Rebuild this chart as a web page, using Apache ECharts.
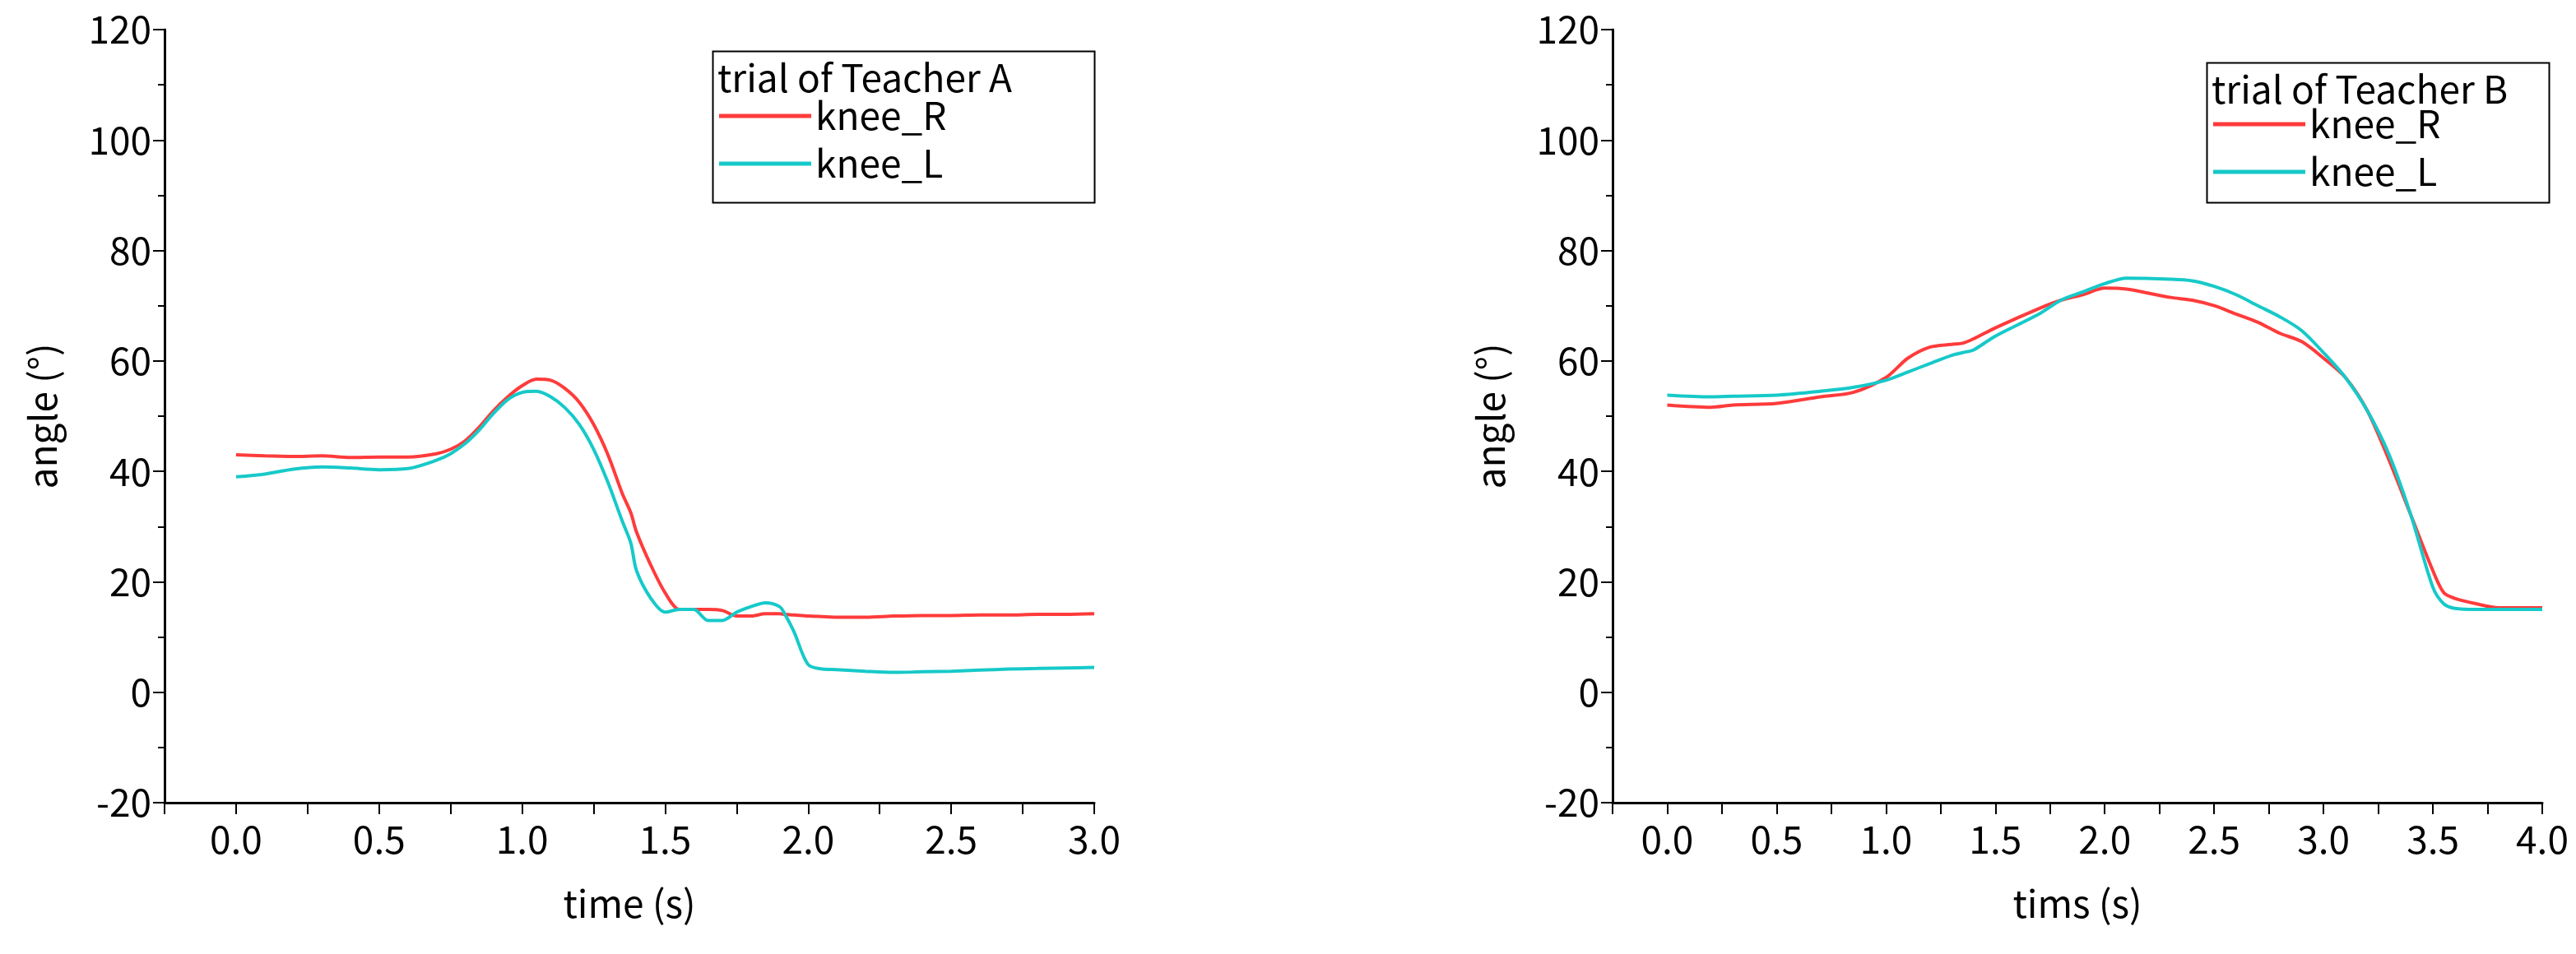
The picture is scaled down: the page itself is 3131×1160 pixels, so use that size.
<!DOCTYPE html>
<html>
<head>
  <meta charset="utf-8">
  <title>knee angle</title>
  <script src="https://cdn.jsdelivr.net/npm/echarts@6/dist/echarts.min.js"></script>
</head>
<body style="margin:0;background:#fff">
  <div id="main" style="width:3131px;height:1160px"></div>
  <script type="text/javascript">
    // Teacher A
    var timeA = [0,0.1,0.2,0.3,0.4,0.5,0.6,0.7,0.75,0.8,0.85,0.9,0.95,1.0,1.05,1.1,1.15,1.2,1.25,1.3,1.35,1.38,1.4,1.45,1.5,1.55,1.6,1.65,1.7,1.75,1.8,1.85,1.9,1.92,1.95,2.0,2.05,2.1,2.2,2.3,2.4,2.5,2.6,2.7,2.8,2.9,3.0];
    var kneeRA = [43,42.8,42.7,42.8,42.5,42.6,42.6,43.2,44,45.5,48,51,53.5,55.5,56.7,56.5,55,52.5,48.5,43,36,32.5,29,23,18,15,15,15,14.8,13.8,13.8,14.2,14.2,14.1,14,13.8,13.7,13.6,13.6,13.8,13.9,13.9,14,14,14.1,14.1,14.2];
    var kneeLA = [39,39.5,40.4,40.8,40.6,40.3,40.5,42,43.2,45,47.5,50.5,53,54.3,54.5,53.5,51.5,48.5,44,38,31,27,22,17,14.5,15,15,13,13,14.5,15.5,16.2,15.5,14,11,5,4.2,4.1,3.8,3.6,3.7,3.8,4,4.2,4.3,4.4,4.5];
    // Teacher B
    var timeB = [0,0.2,0.3,0.5,0.7,0.85,1.0,1.1,1.2,1.3,1.35,1.4,1.5,1.7,1.8,1.9,2.0,2.1,2.3,2.4,2.5,2.6,2.7,2.8,2.9,3.0,3.1,3.2,3.3,3.4,3.5,3.55,3.6,3.7,3.8,4.0];
    var kneeRB = [52,51.6,52,52.3,53.5,54.3,57,60.5,62.5,63,63.2,64,66,69.5,71,72,73.2,73,71.5,71,70,68.5,67,65,63.5,60.5,57,51,42,32,22,18,17,16,15.3,15.3];
    var kneeLB = [53.8,53.5,53.6,53.8,54.5,55.2,56.5,58,59.5,61,61.5,62,64.5,68.5,71,72.5,74,75,74.8,74.5,73.5,72,70,68,65.5,61.5,57,51,43,32,19,16,15.2,15,15,15];
    var yTicks = {min: -20, max: 120, interval: 20};

    var RED = '#ff3b3b', CYAN = '#17c9c9';
    var FONT = 'Noto Sans CJK JP';
    function pairs(xs, ys) { return xs.map(function (x, i) { return [x, ys[i]]; }); }
    function xAxisFor(idx, max, name) {
      return {
        gridIndex: idx, type: 'value', min: -0.25, max: max, interval: 0.25,
        name: name, nameLocation: 'middle', nameGap: 100,
        nameTextStyle: {fontSize: 46, color: '#000', fontFamily: FONT},
        axisLine: {onZero: false, lineStyle: {color: '#000', width: 3}},
        axisTick: {inside: false, length: 14, lineStyle: {color: '#000', width: 2}},
        splitLine: {show: false},
        axisLabel: {fontSize: 46, color: '#000', fontFamily: FONT, margin: 22,
          formatter: function (v) {
            if (v < 0 || Math.abs(v * 2 - Math.round(v * 2)) > 1e-6) return '';
            return v.toFixed(1);
          }}
      };
    }
    function yAxisFor(idx) {
      return {
        gridIndex: idx, type: 'value', min: yTicks.min, max: yTicks.max, interval: yTicks.interval,
        name: 'angle (°)', nameLocation: 'middle', nameGap: 125,
        nameTextStyle: {fontSize: 46, color: '#000', fontFamily: FONT},
        axisLine: {show: true, onZero: false, lineStyle: {color: '#000', width: 3}},
        axisTick: {show: true, length: 14, lineStyle: {color: '#000', width: 2}},
        minorTick: {show: true, splitNumber: 2, length: 8, lineStyle: {color: '#000', width: 2}},
        splitLine: {show: false},
        axisLabel: {fontSize: 46, color: '#000', fontFamily: FONT, margin: 16}
      };
    }
    function line(name, idx, data, color) {
      return {name: name, type: 'line', xAxisIndex: idx, yAxisIndex: idx, data: data,
        showSymbol: false, smooth: 0.3, lineStyle: {color: color, width: 4}, itemStyle: {color: color}};
    }
    function legendBox(x, y, w, h, title) {
      return [
        {type: 'rect', left: x, top: y, shape: {width: w, height: h},
          style: {fill: 'none', stroke: '#000', lineWidth: 2}},
        {type: 'text', left: x + 8, top: y + 12,
          style: {text: title, fontSize: 46, fontFamily: FONT, fill: '#000'}}
      ];
    }
    function legendFor(left, top) {
      return {
        data: ['knee_R', 'knee_L'],
        orient: 'vertical', left: left, top: top, itemWidth: 112, itemHeight: 5, itemGap: 12,
        icon: 'rect', textStyle: {fontSize: 46, fontFamily: FONT, color: '#000'},
        selectedMode: false, padding: 0
      };
    }

    var myChart = echarts.init(document.getElementById('main'));
    var option = {
      animation: false,
      grid: [
        {left: 200, top: 36, width: 1130, height: 940},
        {left: 1960, top: 36, width: 1130, height: 940}
      ],
      xAxis: [xAxisFor(0, 3.0, 'time (s)'), xAxisFor(1, 4.0, 'tims (s)')],
      yAxis: [yAxisFor(0), yAxisFor(1)],
      legend: [legendFor(874, 118), legendFor(2690, 128)],
      graphic: legendBox(864, 60, 464, 184, 'trial of Teacher A')
        .concat(legendBox(2680, 74, 416, 170, 'trial of Teacher B')),
      series: [
        line('knee_R', 0, pairs(timeA, kneeRA), RED),
        line('knee_L', 0, pairs(timeA, kneeLA), CYAN),
        line('knee_R', 1, pairs(timeB, kneeRB), RED),
        line('knee_L', 1, pairs(timeB, kneeLB), CYAN)
      ]
    };
    myChart.setOption(option);
  </script>
</body>
</html>
